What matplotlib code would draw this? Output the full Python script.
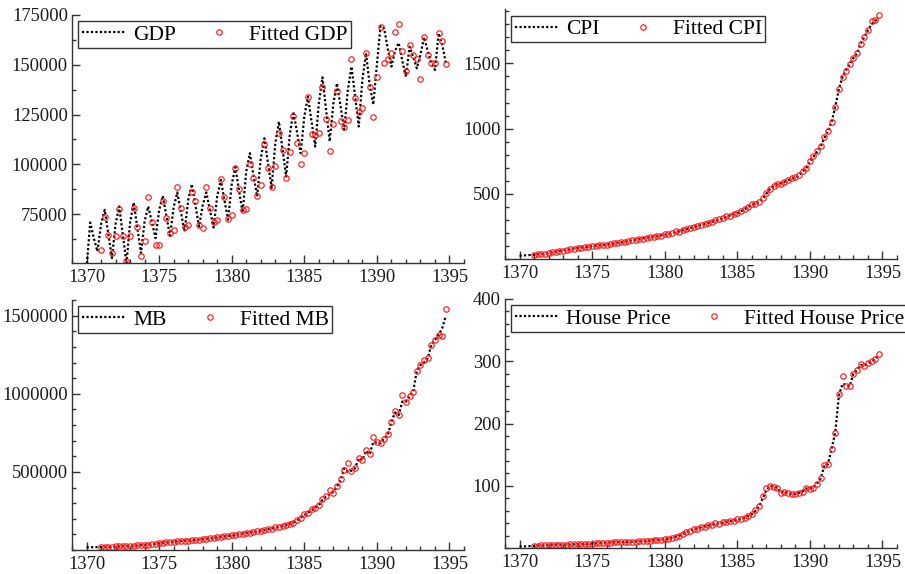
import numpy as np
import matplotlib
matplotlib.use('Agg')
from matplotlib import pyplot as plt
from matplotlib.ticker import MultipleLocator, FixedLocator, FormatStrFormatter

plt.rcParams['font.family'] = 'Liberation Serif'

# quarterly time index, 1370 Q1 .. 1394 Q4
quarters = 1370 + np.arange(100) / 4
fit_start = 4  # fitted values begin at 1371

gdp = [48000, 70800, 63000, 56300,
       70000, 77200, 65000, 53000,
       70000, 78900, 64500, 50400,
       71000, 80900, 68000, 55500,
       71500, 78900, 71000, 63000,
       77000, 84200, 74000, 64100,
       78500, 85900, 76000, 66300,
       82000, 90100, 79500, 68800,
       79500, 85900, 77000, 68300,
       84000, 92200, 82000, 72200,
       90000, 98600, 87000, 75800,
       96500, 105600, 94500, 83900,
       103000, 113100, 100500, 88100,
       110500, 121500, 107500, 93900,
       115000, 126500, 116000, 105600,
       124000, 134000, 121500, 109000,
       130500, 143700, 127500, 111500,
       130500, 140700, 129000, 117300,
       137500, 149100, 134000, 119000,
       142500, 155800, 140000, 130000,
       150000, 169500, 168300, 158000,
       149100, 157000, 161000, 152000,
       144100, 159100, 154000, 148200,
       155000, 163800, 157000, 151000,
       147400, 165800, 160000, 150800]

gdp_fit = [56800, 73800, 64600, 55400,
           64100, 77500, 64100, 51600,
           64100, 78000, 68500, 54100,
           61300, 83800, 71300, 59600,
           59600, 81400, 73000, 65500,
           67200, 88900, 78000, 68800,
           69700, 85900, 81400, 69700,
           68000, 88900, 78000, 71300,
           72200, 92600, 83400, 72500,
           74700, 98100, 87600, 77200,
           77500, 100100, 93400, 83900,
           89700, 110300, 98100, 88900,
           99400, 116000, 107300, 93400,
           106400, 124300, 110600, 100100,
           105600, 133700, 115100, 114800,
           115600, 138700, 122800, 106800,
           120100, 137000, 121900, 118600,
           122300, 152900, 133200, 126500,
           128500, 155800, 138700, 124000,
           143700, 169100, 151100, 152900,
           155800, 166600, 170300, 156700,
           147100, 160000, 154900, 152900,
           142700, 163800, 154900, 150800,
           151100, 166100, 162000, 150400]

cpi = [25, 27, 29, 31,
       33, 36, 39, 42,
       46, 51, 56, 61,
       66, 71, 75, 80,
       84, 87, 91, 94,
       97, 100, 104, 107,
       110, 114, 118, 122,
       127, 132, 137, 143,
       148, 153, 158, 163,
       168, 172, 177, 181,
       186, 192, 199, 205,
       212, 220, 228, 236,
       245, 252, 260, 268,
       276, 285, 295, 304,
       314, 323, 333, 342,
       352, 366, 382, 398,
       416, 424, 437, 462,
       500, 536, 558, 574,
       580, 592, 605, 615,
       625, 643, 669, 695,
       745, 784, 822, 860,
       929, 980, 1052, 1167,
       1302, 1396, 1448, 1494,
       1542, 1575, 1652, 1703,
       1754, 1800, 1825, 1845]

cpi_fit = [34, 37, 40, 42,
           45, 50, 57, 62,
           65, 72, 76, 79,
           85, 88, 90, 95,
           98, 99, 105, 108,
           109, 115, 119, 121,
           128, 131, 138, 144,
           147, 154, 157, 164,
           170, 171, 178, 180,
           188, 191, 200, 214,
           208, 222, 230, 238,
           243, 254, 259, 270,
           278, 284, 297, 306,
           312, 326, 331, 344,
           355, 370, 380, 402,
           420, 425, 440, 470,
           508, 540, 562, 576,
           578, 594, 607, 618,
           628, 645, 672, 700,
           748, 790, 825, 865,
           932, 985, 1050, 1165,
           1305, 1398, 1445, 1496,
           1540, 1578, 1650, 1705,
           1756, 1823, 1831, 1874]

mb = [17000, 17500, 18000, 18500,
      19000, 19500, 20000, 21000,
      22000, 23000, 24000, 25000,
      26000, 27500, 29000, 30500,
      32000, 34500, 37000, 40000,
      42700, 45000, 48000, 50500,
      53000, 55000, 57000, 58500,
      60000, 62000, 64000, 66000,
      68000, 71000, 74500, 78000,
      81000, 84000, 87000, 89500,
      92000, 96000, 100500, 105000,
      109000, 112000, 115500, 119000,
      122000, 127000, 132500, 138000,
      143000, 148500, 154500, 160000,
      166000, 175000, 190000, 207000,
      224000, 238000, 255000, 270000,
      285000, 320000, 341000, 357000,
      373000, 405000, 448000, 523000,
      501000, 508000, 523000, 587000,
      576000, 635000, 614000, 690000,
      687000, 683000, 715000, 736000,
      821000, 880000, 864000, 950000,
      949000, 985000, 1013000, 1147000,
      1184000, 1200000, 1227000, 1312000,
      1344000, 1376000, 1420000, 1500000]

mb_fit = [18500, 19800, 20500, 21500,
          22500, 22800, 24500, 25500,
          26500, 27000, 29500, 31000,
          31500, 35000, 36500, 40500,
          43000, 44500, 48500, 51000,
          52500, 55500, 56500, 59000,
          60500, 61500, 64500, 65500,
          68500, 70500, 75000, 77500,
          82000, 83500, 87500, 89000,
          93000, 95500, 101000, 104500,
          110000, 111500, 117000, 118500,
          124000, 126000, 134000, 137000,
          145000, 147000, 156000, 159000,
          168000, 173000, 195000, 205000,
          228000, 235000, 262000, 268000,
          290000, 325000, 345000, 386000,
          365000, 410000, 452000, 512000,
          555000, 505000, 528000, 587000,
          576000, 640000, 612000, 721000,
          690000, 684000, 712000, 740000,
          818000, 891000, 862000, 992000,
          949000, 985000, 1013000, 1147000,
          1184000, 1216000, 1227000, 1312000,
          1344000, 1376000, 1369000, 1540000]

hp = [2.7, 3.0, 3.2, 3.5,
      3.7, 4.1, 4.5, 4.9,
      5.3, 5.5, 5.6, 5.8,
      5.9, 6.0, 6.1, 6.3,
      6.4, 6.7, 7.0, 7.2,
      7.5, 7.9, 8.3, 8.6,
      9.0, 9.3, 9.5, 9.8,
      10.0, 10.2, 10.4, 10.5,
      10.7, 11.1, 11.5, 11.9,
      12.3, 12.8, 13.3, 13.9,
      14.4, 15.5, 17.0, 18.5,
      20.0, 23.0, 26.0, 28.5,
      30.5, 32.0, 33.5, 35.0,
      36.4, 38.0, 39.5, 40.2,
      41.0, 42.0, 43.5, 44.5,
      45.5, 47.0, 49.0, 51.5,
      54.5, 60.0, 67.0, 80.0,
      93.0, 100.0, 99.0, 97.0,
      89.0, 91.0, 88.0, 87.0,
      87.0, 89.0, 91.0, 96.0,
      96.0, 97.5, 104.0, 112.0,
      133.0, 135.0, 160.0, 186.0,
      245.0, 264.0, 262.0, 260.0,
      280.0, 286.0, 294.0, 293.0,
      297.0, 300.0, 304.0, 309.0]

hp_fit = [3.5, 3.8, 4.6, 5.0,
          5.2, 5.6, 5.5, 5.9,
          6.0, 5.9, 6.2, 6.2,
          6.5, 6.6, 7.1, 7.3,
          7.4, 8.0, 8.2, 8.7,
          9.1, 9.2, 9.6, 9.7,
          10.1, 10.1, 10.5, 10.4,
          10.8, 11.0, 11.6, 11.8,
          12.4, 12.7, 13.4, 13.8,
          14.6, 15.3, 17.2, 18.3,
          20.5, 22.5, 26.5, 28.0,
          31.5, 31.5, 34.0, 34.5,
          37.0, 37.5, 40.0, 39.5,
          41.5, 41.5, 44.5, 44.0,
          46.5, 47.5, 48.5, 52.0,
          55.0, 61.0, 68.0, 84.0,
          96.0, 99.5, 98.0, 96.5,
          88.0, 91.0, 89.0, 87.0,
          87.0, 89.5, 90.0, 96.0,
          95.5, 97.5, 103.0, 112.0,
          133.0, 134.5, 160.0, 185.0,
          248.0, 276.0, 260.0, 260.0,
          280.0, 286.0, 295.0, 293.0,
          297.0, 300.0, 304.0, 311.0]

fig = plt.figure(figsize=(9.05, 5.74), dpi=100)

panels = [
    ([0.0796, 0.5418, 0.4331, 0.4321], gdp, gdp_fit, 'GDP',
     (50500, 175000), [75000, 100000, 125000, 150000, 175000], 12500),
    ([0.558, 0.5488, 0.4331, 0.4350], cpi, cpi_fit, 'CPI',
     (0, 1915), [500, 1000, 1500], 100),
    ([0.0796, 0.0418, 0.4331, 0.4355], mb, mb_fit, 'MB',
     (0, 1600000), [500000, 1000000, 1500000], 100000),
    ([0.558, 0.0448, 0.4331, 0.4343], hp, hp_fit, 'House Price',
     (0, 400), [100, 200, 300, 400], 20),
]

for rect, actual, fitted, name, ylim, yticks, yminor in panels:
    ax = fig.add_axes(rect)
    ax.plot(quarters, actual, color='black', lw=1.6, linestyle=(0, (1, 1)),
            label=name)
    ax.plot(quarters[fit_start:], fitted, linestyle='none', marker='o',
            markersize=3.9, markerfacecolor='none', markeredgecolor='#ff1a1a',
            markeredgewidth=0.85, label='Fitted ' + name)
    ax.set_xlim(1369, 1396)
    ax.set_ylim(*ylim)
    ax.xaxis.set_major_locator(MultipleLocator(5))
    ax.xaxis.set_minor_locator(MultipleLocator(1))
    ax.yaxis.set_major_locator(FixedLocator(yticks))
    ax.yaxis.set_minor_locator(MultipleLocator(yminor))
    ax.yaxis.set_major_formatter(FormatStrFormatter('%d'))
    ax.spines['top'].set_visible(False)
    ax.spines['right'].set_visible(False)
    for s in ('left', 'bottom'):
        ax.spines[s].set_color('#333333')
        ax.spines[s].set_linewidth(1.0)
    ax.tick_params(which='major', direction='in', length=5.5, width=1,
                   color='#333333', labelsize=13.3, labelcolor='#1a1a1a')
    ax.tick_params(which='minor', direction='in', length=3.2, width=1,
                   color='#333333')
    ax.tick_params(axis='x', pad=4)
    ax.tick_params(axis='y', pad=3)
    leg = ax.legend(loc='upper left', bbox_to_anchor=(0, 1), ncol=2,
                    fontsize=15.5, frameon=True, fancybox=False,
                    framealpha=1, edgecolor='#333333', borderpad=0.15,
                    borderaxespad=0.3, handlelength=2.0, handletextpad=0.4,
                    columnspacing=1.0, numpoints=1)
    leg.get_frame().set_linewidth(1.0)
    leg.set_clip_on(False)

fig.savefig('out.png', dpi=100)
